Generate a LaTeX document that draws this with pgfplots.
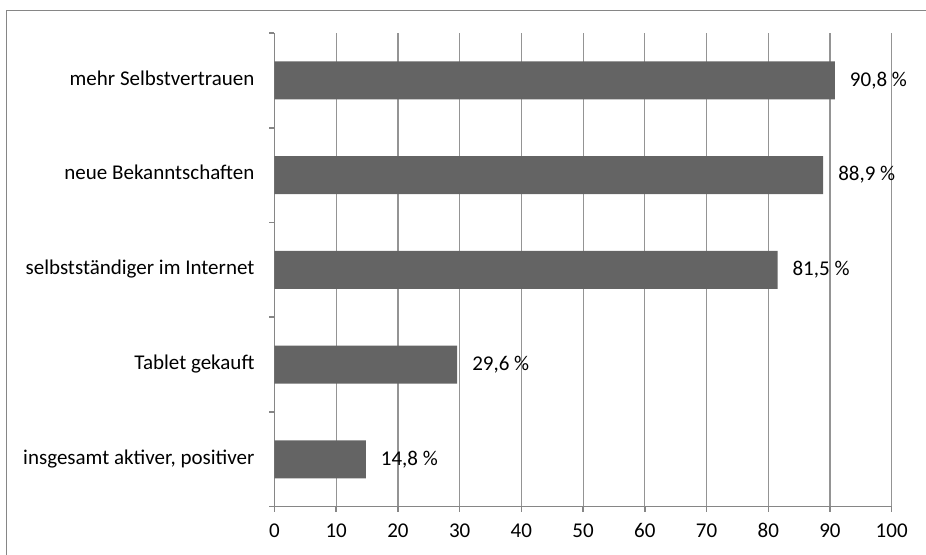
\documentclass[border=0pt]{standalone}
\usepackage{fontspec}
\setmainfont{Carlito}
\usepackage{pgfplots}
\pgfplotsset{compat=1.18}

\definecolor{barfill}{HTML}{646464}
\definecolor{axisgray}{HTML}{868686}
\definecolor{gridgray}{HTML}{949494}

\begin{document}
\begin{tikzpicture}[font=\fontsize{10.5pt}{12pt}\selectfont]
\begin{axis}[
  name=ax,
  scale only axis,
  width=308.6pt, height=236.85pt,
  xbar,
  bar width=19pt,
  xmin=0, xmax=100,
  ymin=-0.5, ymax=4.5,
  axis lines*=left,
  axis line style={axisgray, line width=0.75pt},
  xtick={0,10,...,100},
  xmajorgrids,
  major grid style={gridgray, line width=0.6pt},
  tick align=outside,
  xtick style={axisgray, line width=0.75pt},
  major tick length=2.5pt,
  ytick={0,1,2,3,4},
  yticklabels={{insgesamt aktiver, positiver}, {Tablet gekauft}, {selbstständiger im Internet}, {neue Bekanntschaften}, {mehr Selbstvertrauen}},
  ytick style={draw=none},
  extra y ticks={-0.5,0.5,1.5,2.5,3.5,4.5},
  extra y tick labels={},
  extra y tick style={ytick style={draw=axisgray, line width=0.75pt}, major tick length=2.5pt},
  yticklabel style={xshift=-4pt},
  typeset ticklabels with strut,
  xticklabel style={yshift=-1pt},
  /pgf/number format/assume math mode=true,
  nodes near coords={\pgfmathprintnumber[fixed,fixed zerofill,precision=1,use comma]{\pgfplotspointmeta} \%},
  nodes near coords style={anchor=west, xshift=4pt, text=black},
]
\addplot[fill=barfill, draw=none] coordinates {
  (14.8,0) (29.6,1) (81.5,2) (88.9,3) (90.8,4)
};
\end{axis}
\draw[axisgray, line width=0.75pt] (-134pt,-30pt) -- (-134pt,248.1pt) -- (330pt,248.1pt);
\pgfresetboundingbox
\useasboundingbox (-137.25pt,-23.65pt) rectangle (325.75pt,253.35pt);
\end{tikzpicture}
\end{document}
